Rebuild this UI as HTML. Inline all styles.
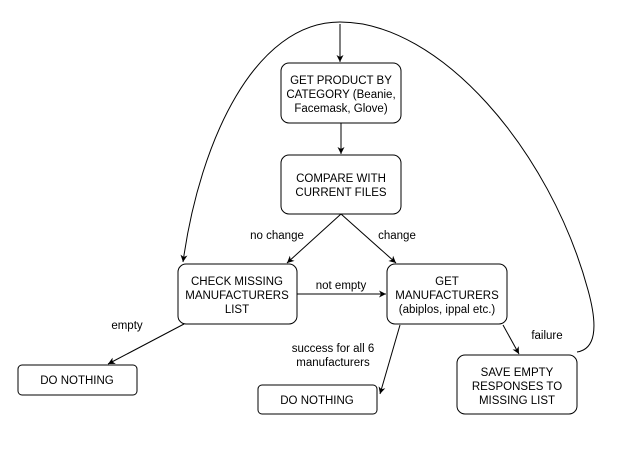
<!DOCTYPE html>
<html><head><style>
html,body{margin:0;padding:0;background:#fff;}
svg text{font-family:"Liberation Sans",Arial,sans-serif;font-size:11.5px;fill:#000;}
</style></head><body>
<svg width="623" height="458" viewBox="0 0 623 458" xmlns="http://www.w3.org/2000/svg">
<defs><marker id="a" markerWidth="8" markerHeight="8" refX="7" refY="4" orient="auto" markerUnits="userSpaceOnUse"><path d="M0,0.5 L7,4 L0,7.5 L2,4 Z" fill="#000"/></marker></defs>
<g fill="none" stroke="#000" stroke-width="1">
<path d="M577,352 Q604,348 588,290 C550,150 440,22 340,22 C255,22 200,140 183,262" marker-end="url(#a)"/>
<line x1="340" y1="24" x2="340" y2="62" marker-end="url(#a)"/>
<line x1="341" y1="123" x2="341" y2="154" marker-end="url(#a)"/>
<line x1="341" y1="214" x2="287" y2="263" marker-end="url(#a)"/>
<line x1="341" y1="214" x2="396" y2="263" marker-end="url(#a)"/>
<line x1="297" y1="294" x2="386" y2="294" marker-end="url(#a)"/>
<line x1="184" y1="324" x2="108" y2="364" marker-end="url(#a)"/>
<line x1="400" y1="325" x2="380" y2="394" marker-end="url(#a)"/>
<line x1="503" y1="325" x2="519" y2="354" marker-end="url(#a)"/>
<rect x="281" y="63" width="120" height="60" rx="8"/>
<rect x="281" y="155" width="120" height="59" rx="8"/>
<rect x="178" y="264" width="119" height="60" rx="8"/>
<rect x="387" y="264" width="120" height="60" rx="8"/>
<rect x="18" y="365" width="119" height="30" rx="4"/>
<rect x="258" y="385" width="119" height="29" rx="4"/>
<rect x="457" y="355" width="120" height="59" rx="8"/>
</g>
<g text-anchor="middle">
<text x="341" y="84">GET PRODUCT BY</text>
<text x="341" y="98">CATEGORY (Beanie,</text>
<text x="341" y="112">Facemask, Glove)</text>
<text x="341" y="182">COMPARE WITH</text>
<text x="341" y="196">CURRENT FILES</text>
<text x="237" y="285">CHECK MISSING</text>
<text x="237" y="299">MANUFACTURERS</text>
<text x="237" y="313">LIST</text>
<text x="447" y="285">GET</text>
<text x="447" y="299">MANUFACTURERS</text>
<text x="447" y="313">(abiplos, ippal etc.)</text>
<text x="77" y="384">DO NOTHING</text>
<text x="317" y="404">DO NOTHING</text>
<text x="517" y="376">SAVE EMPTY</text>
<text x="517" y="390">RESPONSES TO</text>
<text x="517" y="404">MISSING LIST</text>
<text x="277" y="239">no change</text>
<text x="397" y="239">change</text>
<text x="341" y="289">not empty</text>
<text x="127" y="329">empty</text>
<text x="333" y="352">success for all 6</text>
<text x="333" y="366">manufacturers</text>
<text x="547" y="339">failure</text>
</g>
</svg>
</body></html>
